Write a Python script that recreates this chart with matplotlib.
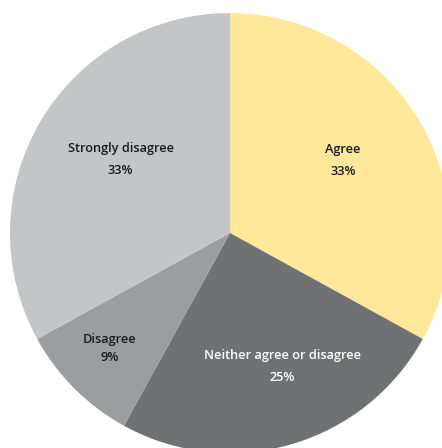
import numpy as np
import matplotlib.pyplot as plt

labels = ['Agree', 'Neither agree or disagree', 'Disagree', 'Strongly disagree']
values = [33, 25, 9, 33]
colors = ['#FFE899', '#707173', '#9C9D9F', '#C4C5C7']
text_colors = ['#1a1a1a', '#ffffff', '#1a1a1a', '#1a1a1a']
# label placement: radius and angle nudge (deg) from each wedge's middle
label_r = [0.61, 0.65, 0.76, 0.60]
label_dang = [1.9, 5.2, -1.2, -3.4]
line_gap = [0.05, 0.05, 0.041, 0.05]

fig = plt.figure(figsize=(4.42, 4.48), dpi=100)
ax = fig.add_axes([0, 0, 1, 1])

wedges, _ = ax.pie(values, colors=colors, startangle=90, counterclock=False,
                   radius=1, wedgeprops=dict(linewidth=0))

# pie centre sits at pixel (230, 233), radius 220 px
s = 220.0
ax.set_xlim(-230 / s, (442 - 230) / s)
ax.set_ylim(-(448 - 233) / s, 233 / s)
ax.set_aspect('auto')
ax.axis('off')

for w, lab, v, c, r, da, g in zip(wedges, labels, values, text_colors,
                                  label_r, label_dang, line_gap):
    mid = np.deg2rad((w.theta1 + w.theta2) / 2 + da)
    x, y = r * np.cos(mid), r * np.sin(mid)
    ax.text(x, y + g, lab, ha='center', va='center', fontsize=9.2,
            color=c, family='Open Sans', weight='semibold')
    ax.text(x, y - g, f'{v}%', ha='center', va='center', fontsize=9.2,
            color=c, family='Open Sans', weight='semibold')

fig.savefig('out.png', dpi=100)
